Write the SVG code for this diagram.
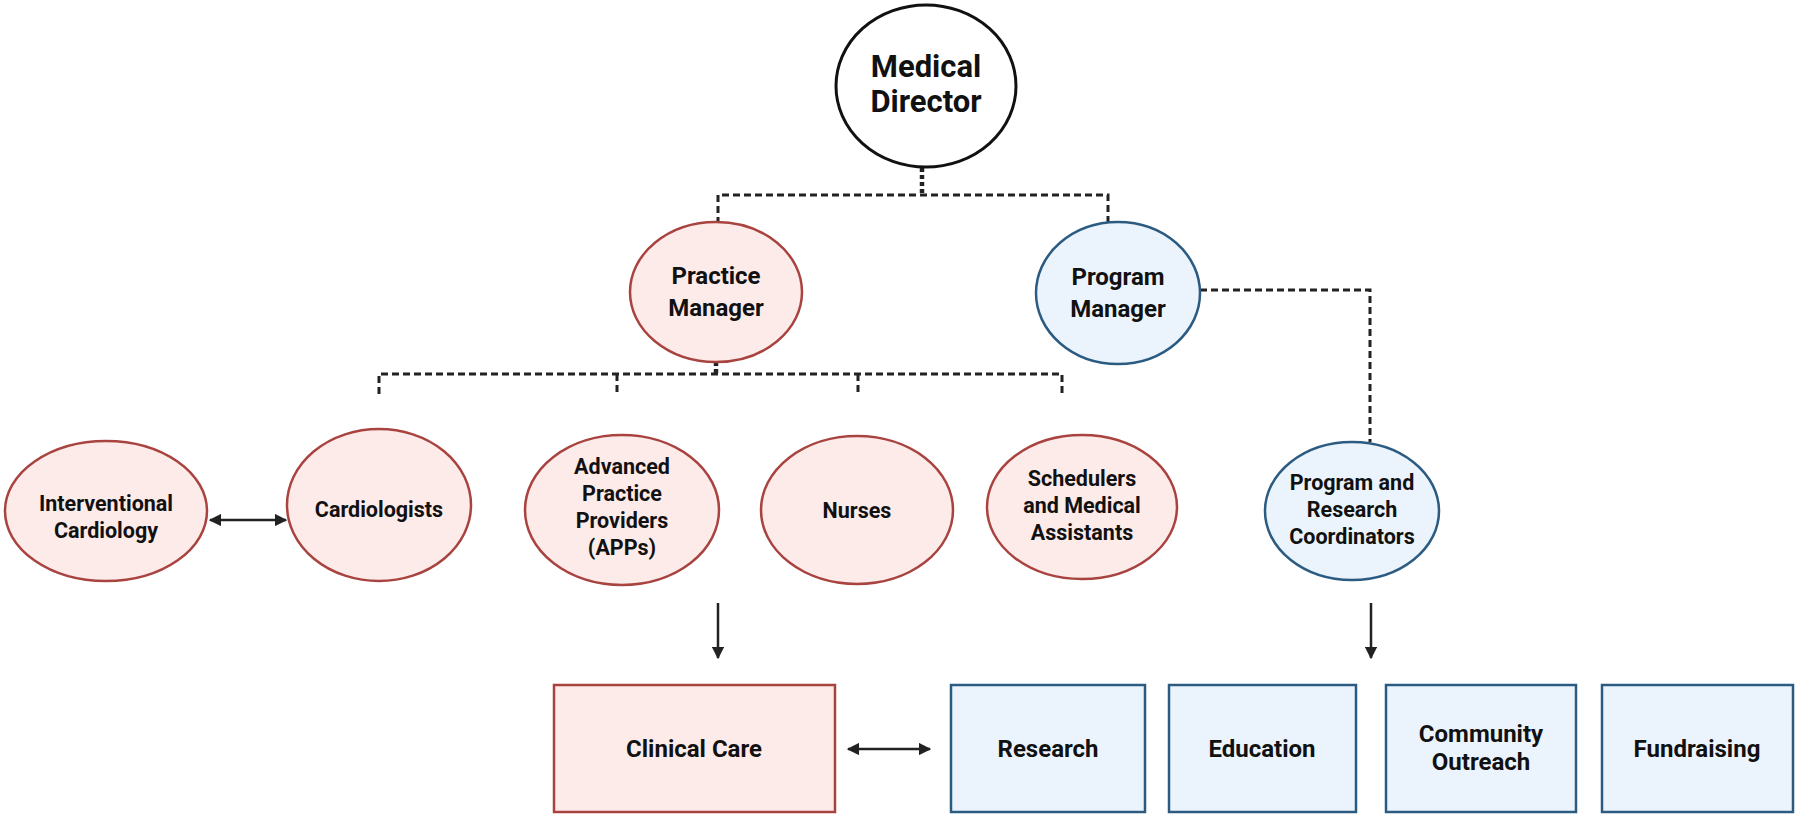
<svg xmlns="http://www.w3.org/2000/svg" width="1800" height="821" viewBox="0 0 1800 821">
<defs>
<style>
.t{font-family:Roboto,"Liberation Sans",sans-serif;font-weight:bold;text-anchor:middle;fill:#111}
.r3{font-size:21.5px}
.bx{font-size:24px}
.pink{fill:#fdebea;stroke:#a8433f;stroke-width:2.5}
.blue{fill:#ebf4fc;stroke:#2c5b82;stroke-width:2.5}
.dot{fill:none;stroke:#222;stroke-width:3;stroke-dasharray:7 4}
.tap{fill:none;stroke:#222;stroke-width:4.5;stroke-dasharray:4 3}
.arr{fill:none;stroke:#222;stroke-width:2.5}
</style>
<marker id="ah" viewBox="0 0 10 10" refX="9" refY="5" markerWidth="5" markerHeight="5" orient="auto-start-reverse" markerUnits="strokeWidth">
<path d="M0,0 L10,5 L0,10 z" fill="#222"/>
</marker>
</defs>
<rect width="1800" height="821" fill="#fff"/>

<g id="connectors">
<line class="tap" x1="922" y1="168" x2="922" y2="195"/>
<polyline class="dot" points="718,224 718,195 1108,195 1108,224"/>
<line class="tap" x1="716" y1="362" x2="716" y2="374"/>
<polyline class="dot" points="379,394 379,374 1062,374 1062,394"/>
<line class="dot" x1="617" y1="374" x2="617" y2="394"/>
<line class="dot" x1="858" y1="374" x2="858" y2="394"/>
<polyline class="dot" points="1200,290 1370,290 1370,442"/>
<line class="arr" x1="210" y1="520" x2="286" y2="520" marker-start="url(#ah)" marker-end="url(#ah)"/>
<line class="arr" x1="718" y1="603" x2="718" y2="658" marker-end="url(#ah)"/>
<line class="arr" x1="1371" y1="603" x2="1371" y2="658" marker-end="url(#ah)"/>
<line class="arr" x1="848" y1="749" x2="930" y2="749" marker-start="url(#ah)" marker-end="url(#ah)"/>
</g>

<g id="medical-director">
<ellipse cx="926" cy="86" rx="90" ry="81" fill="#fff" stroke="#111" stroke-width="3"/>
<text class="t" x="926" y="77" font-size="31">Medical</text>
<text class="t" x="926" y="112" font-size="31">Director</text>
</g>

<g id="practice-manager">
<ellipse class="pink" cx="716" cy="292" rx="86" ry="70"/>
<text class="t" x="716" y="284" font-size="24">Practice</text>
<text class="t" x="716" y="316" font-size="24">Manager</text>
</g>

<g id="program-manager">
<ellipse class="blue" cx="1118" cy="293" rx="82" ry="71"/>
<text class="t" x="1118" y="285" font-size="24">Program</text>
<text class="t" x="1118" y="317" font-size="24">Manager</text>
</g>

<g id="interventional-cardiology">
<ellipse class="pink" cx="106" cy="511" rx="101" ry="70"/>
<text class="t r3" x="106" y="511">Interventional</text>
<text class="t r3" x="106" y="538">Cardiology</text>
</g>

<g id="cardiologists">
<ellipse class="pink" cx="379" cy="505" rx="92" ry="76"/>
<text class="t r3" x="379" y="517">Cardiologists</text>
</g>

<g id="apps">
<ellipse class="pink" cx="622" cy="510" rx="97" ry="75"/>
<text class="t r3" x="622" y="474">Advanced</text>
<text class="t r3" x="622" y="501">Practice</text>
<text class="t r3" x="622" y="528">Providers</text>
<text class="t r3" x="622" y="555">(APPs)</text>
</g>

<g id="nurses">
<ellipse class="pink" cx="857" cy="510" rx="96" ry="74"/>
<text class="t r3" x="857" y="518">Nurses</text>
</g>

<g id="schedulers">
<ellipse class="pink" cx="1082" cy="507" rx="95" ry="72"/>
<text class="t r3" x="1082" y="486">Schedulers</text>
<text class="t r3" x="1082" y="513">and Medical</text>
<text class="t r3" x="1082" y="540">Assistants</text>
</g>

<g id="coordinators">
<ellipse class="blue" cx="1352" cy="511" rx="87" ry="69"/>
<text class="t r3" x="1352" y="490">Program and</text>
<text class="t r3" x="1352" y="517">Research</text>
<text class="t r3" x="1352" y="544">Coordinators</text>
</g>

<g id="clinical-care">
<rect class="pink" x="554" y="685" width="281" height="127"/>
<text class="t bx" x="694" y="757">Clinical Care</text>
</g>

<g id="research">
<rect class="blue" x="951" y="685" width="194" height="127"/>
<text class="t bx" x="1048" y="757">Research</text>
</g>

<g id="education">
<rect class="blue" x="1169" y="685" width="187" height="127"/>
<text class="t bx" x="1262" y="757">Education</text>
</g>

<g id="community-outreach">
<rect class="blue" x="1386" y="685" width="190" height="127"/>
<text class="t bx" x="1481" y="742">Community</text>
<text class="t bx" x="1481" y="770">Outreach</text>
</g>

<g id="fundraising">
<rect class="blue" x="1602" y="685" width="191" height="127"/>
<text class="t bx" x="1697" y="757">Fundraising</text>
</g>
</svg>
